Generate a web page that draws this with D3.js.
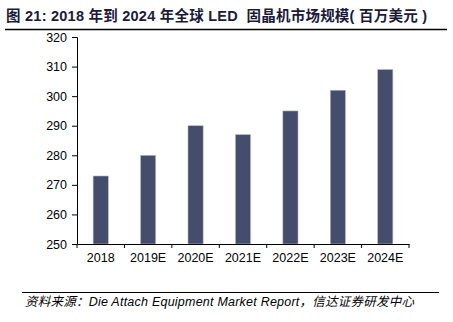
<!DOCTYPE html>
<html><head><meta charset="utf-8">
<script src="https://cdn.jsdelivr.net/npm/d3@7"></script>
<style>body{margin:0;background:#fff}svg{display:block}</style>
</head><body>
<svg id="c" width="453" height="322"></svg>
<script>
const categories = ["2018","2019E","2020E","2021E","2022E","2023E","2024E"];
const values = [273, 280, 290, 287, 295, 302, 309];
const yTicks = [250,260,270,280,290,300,310,320];
const titleText = "图 21: 2018 年到 2024 年全球 LED  固晶机市场规模( 百万美元 )";
const sourceCn = "资料来源：";
const sourceEn = "Die Attach Equipment Market Report";
const sourceCn2 = "，信达证券研发中心";

const svg = d3.select("#c");
const m = {l:77, r:409, t:37, b:244};
const x = d3.scaleBand().domain(categories).range([m.l, m.r]).paddingInner(0.68).paddingOuter(0.34);
const y = d3.scaleLinear().domain([250,320]).range([m.b, m.t]);
const font = "'Liberation Sans', Arial, sans-serif";

// title
svg.append("text").attr("x",6).attr("y",21)
  .attr("font-family","'Liberation Sans','Noto Sans CJK SC',sans-serif")
  .attr("font-weight","bold").attr("font-size",14.5).attr("fill","#1a1a3a")
  .attr("xml:space","preserve").style("white-space","pre")
  .attr("textLength",421).attr("lengthAdjust","spacing")
  .text(titleText);
svg.append("line").attr("x1",5).attr("x2",447).attr("y1",29.5).attr("y2",29.5)
  .attr("stroke","#000").attr("stroke-width",1.5);

// bars
svg.append("g").selectAll("rect").data(values).join("rect")
  .attr("x",(d,i)=>x(categories[i]))
  .attr("width",x.bandwidth())
  .attr("y",d=>y(d))
  .attr("height",d=>y(250)-y(d))
  .attr("fill","#444d6b")
  .attr("stroke","#b9bccb").attr("stroke-width",0.6);

// y axis
const ya = svg.append("g").attr("transform",`translate(${m.l},0)`)
  .call(d3.axisLeft(y).tickValues(yTicks).tickSize(5).tickPadding(5).tickFormat(d3.format("d")));
ya.selectAll("text").attr("font-family",font).attr("font-size",12.5).attr("fill","#000");
ya.selectAll("line,path").attr("stroke","#000");

// x axis
const xa = svg.append("g").attr("transform",`translate(0,${m.b})`)
  .call(d3.axisBottom(x).tickSize(0).tickPadding(9));
xa.select("path").attr("stroke","#000");
xa.selectAll("text").attr("font-family",font).attr("font-size",12.5).attr("fill","#000");
// boundary ticks between bands
const step = x.step();
const bounds = d3.range(categories.length+1).map(i=>m.l + i*step);
svg.append("g").selectAll("line").data(bounds).join("line")
  .attr("x1",d=>d).attr("x2",d=>d).attr("y1",m.b).attr("y2",m.b+4)
  .attr("stroke","#000");

// footer
svg.append("line").attr("x1",22).attr("x2",439).attr("y1",292.5).attr("y2",292.5)
  .attr("stroke","#000").attr("stroke-width",1);
const ft = svg.append("text").attr("x",25).attr("y",306)
  .attr("font-size",12.5).attr("font-style","italic").attr("fill","#000")
  .attr("textLength",389).attr("lengthAdjust","spacing");
ft.append("tspan").attr("font-family","'Noto Sans CJK SC',sans-serif").text(sourceCn);
ft.append("tspan").attr("font-family",font).text(sourceEn);
ft.append("tspan").attr("font-family","'Noto Sans CJK SC',sans-serif").text(sourceCn2);
</script>
</body></html>
